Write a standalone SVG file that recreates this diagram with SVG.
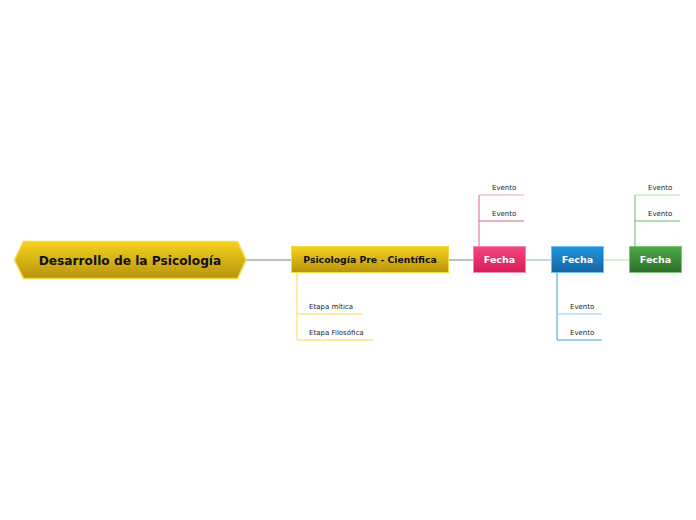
<svg xmlns="http://www.w3.org/2000/svg" width="696" height="520" viewBox="0 0 696 520">
<style>
text{font-family:"DejaVu Sans",Verdana,sans-serif}
.t{font-weight:bold;text-anchor:middle}
.w{fill:#fff;font-size:9.5px}
.s{font-size:7px;fill:#222}
.c{fill:none;stroke-width:1}
</style>
<defs>
<linearGradient id="gy" x1="0" y1="0" x2="0" y2="1"><stop offset="0" stop-color="#f6d21e"/><stop offset="1" stop-color="#b8930c"/></linearGradient>
<linearGradient id="gp" x1="0" y1="0" x2="0" y2="1"><stop offset="0" stop-color="#f2487e"/><stop offset="1" stop-color="#d81b5c"/></linearGradient>
<linearGradient id="gb" x1="0" y1="0" x2="0" y2="1"><stop offset="0" stop-color="#2196e2"/><stop offset="1" stop-color="#13649f"/></linearGradient>
<linearGradient id="gg" x1="0" y1="0" x2="0" y2="1"><stop offset="0" stop-color="#4cab47"/><stop offset="1" stop-color="#2d6e2a"/></linearGradient>
</defs>
<rect width="696" height="520" fill="#fff"/>
<g id="connectors">
<path class="c" stroke="#6d8c72" d="M246 260H291M449 260H473"/>
<path class="c" stroke="#7cc0b0" d="M526 260H551"/>
<path class="c" stroke="#b4dca8" d="M604 260H629"/>
<path class="c" stroke="#f5d840" d="M297 273V340M297 314H362M297 340H373"/>
<path class="c" stroke="#e0608a" d="M479 246V195M479 221H524"/>
<path class="c" stroke="#f2a0bc" d="M479 195H524"/>
<path class="c" stroke="#3d9ee0" d="M557 273V340M557 340H602"/>
<path class="c" stroke="#8ccaf0" d="M557 314H602"/>
<path class="c" stroke="#6cb868" d="M635 246V195M635 221H680"/>
<path class="c" stroke="#b4dca8" d="M635 195H680"/>
</g>
<g id="root">
<polygon points="14.5,260 23.5,241.5 237.5,241.5 246,260 237.5,278.5 23.5,278.5" fill="url(#gy)" stroke="#f3da40" stroke-width="1.5"/>
<text class="t" x="130" y="265" font-size="12.2px" fill="#111">Desarrollo de la Psicología</text>
</g>
<g id="pre">
<rect x="291.5" y="246.5" width="157" height="26" fill="url(#gy)" stroke="#f3da40"/>
<text class="t" x="370" y="263" font-size="9.3px" fill="#111">Psicología Pre - Científica</text>
</g>
<g id="mitica"><text class="s" x="309" y="309">Etapa mítica</text></g>
<g id="filosofica"><text class="s" x="309" y="335">Etapa Filosófica</text></g>
<g id="fecha1">
<rect x="473.5" y="246.5" width="52" height="26" fill="url(#gp)" stroke="#f58aae"/>
<text class="t w" x="499.5" y="263">Fecha</text>
</g>
<g id="ev1a"><text class="s" x="492" y="190">Evento</text></g>
<g id="ev1b"><text class="s" x="492" y="216">Evento</text></g>
<g id="fecha2">
<rect x="551.5" y="246.5" width="52" height="26" fill="url(#gb)" stroke="#6cc0f4"/>
<text class="t w" x="577.5" y="263">Fecha</text>
</g>
<g id="ev2a"><text class="s" x="570" y="309">Evento</text></g>
<g id="ev2b"><text class="s" x="570" y="335">Evento</text></g>
<g id="fecha3">
<rect x="629.5" y="246.5" width="52" height="26" fill="url(#gg)" stroke="#7cc47a"/>
<text class="t w" x="655.5" y="263">Fecha</text>
</g>
<g id="ev3a"><text class="s" x="648" y="190">Evento</text></g>
<g id="ev3b"><text class="s" x="648" y="216">Evento</text></g>
</svg>
